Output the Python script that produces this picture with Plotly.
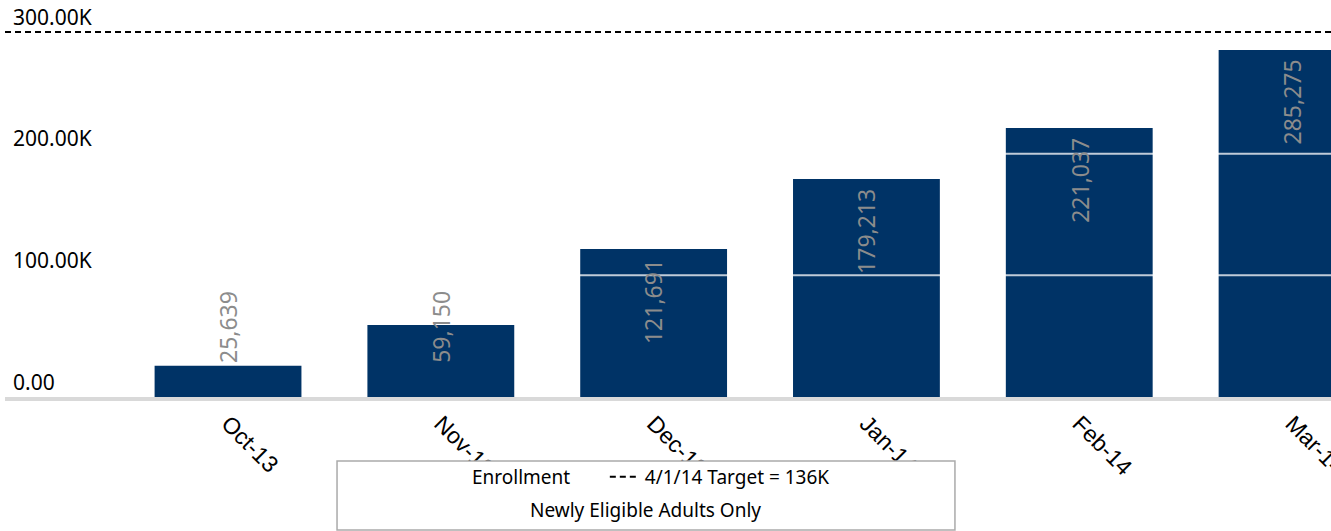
import plotly.graph_objects as go

months = ["Oct-13", "Nov-13", "Dec-13", "Jan-14", "Feb-14", "Mar-14"]
enrollment = [25639, 59150, 121691, 179213, 221037, 285275]
target_level = 300000
target_label = "4/1/14 Target = 136K"
y_ticks = [0, 100000, 200000, 300000]
y_tick_text = ["0.00", "100.00K", "200.00K", "300.00K"]

NAVY = "#003366"
NBSP = "\u00a0"

fig = go.Figure()

fig.add_trace(go.Bar(
    x=months, y=enrollment, width=0.69,
    marker=dict(color=NAVY, line=dict(width=0)),
    showlegend=False, hoverinfo="x+y",
))

# legend entry for the bars, drawn without a swatch
fig.add_trace(go.Scatter(
    x=[None], y=[None], mode="lines", name="Enrollment" + NBSP * 6,
    line=dict(width=0, color="white"), legendrank=1,
))

# gridlines that show only on top of the bars
for t in y_ticks[1:-1]:
    fig.add_shape(
        type="line", xref="paper", x0=0, x1=1, y0=t, y1=t,
        line=dict(color="rgba(255,255,255,0.75)", width=2), layer="above",
    )

fig.add_shape(
    type="line", xref="paper", x0=0, x1=1, y0=target_level, y1=target_level,
    line=dict(color="black", width=2, dash="6px,4px"), layer="above",
    showlegend=True, name=target_label, legendrank=2,
)

# value labels, rotated; short bars get the label lifted off the baseline
for m, v in zip(months, enrollment):
    if v > 95000:
        pos = dict(y=v, yanchor="top", yshift=-8)
    else:
        pos = dict(y=0, yanchor="bottom", yshift=32)
    fig.add_annotation(
        x=m, text=f"{v:,}", textangle=-90, showarrow=False, xanchor="center",
        font=dict(family="Noto Sans", size=23, color="#8c8c8c"), **pos,
    )

# legend box
fig.add_shape(
    type="rect", xref="paper", yref="paper",
    x0=0.2504, x1=0.7164, y0=-0.335, y1=-0.1612,
    line=dict(color="#aaaaaa", width=1.5), fillcolor="white", layer="above",
)
fig.add_annotation(
    xref="paper", yref="paper", x=0.483, y=-0.284, yanchor="middle", showarrow=False,
    text="Newly Eligible Adults Only",
    font=dict(family="Noto Sans", size=19, color="black"),
)

fig.update_layout(
    width=1331, height=531,
    margin=dict(l=5, r=0, t=0, b=134, autoexpand=False),
    paper_bgcolor="white", plot_bgcolor="white",
    legend=dict(
        orientation="h", x=0.474, xanchor="center", y=-0.201, yanchor="middle",
        bgcolor="rgba(0,0,0,0)", font=dict(family="Noto Sans", size=19, color="black"),
        itemwidth=30,
    ),
    xaxis=dict(
        type="category", range=[-1.048, 5.183], tickangle=45, automargin=False,
        tickfont=dict(family="Liberation Sans", size=23, color="black"),
        showgrid=False, showline=True, linecolor="#d9d9d9", linewidth=4,
        layer="above traces",
    ),
    yaxis=dict(
        range=[0, target_level * 397 / 365], automargin=False,
        tickvals=y_ticks, ticktext=y_tick_text, ticklabelposition="inside top",
        ticklabelstandoff=5,
        tickfont=dict(family="Noto Sans", size=21, color="black"),
        showgrid=False, zeroline=False, showline=False, layer="above traces",
    ),
)

fig.write_html(
    "out.html",
    config={"displayModeBar": False},
    post_script="document.body.style.margin='0';",
)
